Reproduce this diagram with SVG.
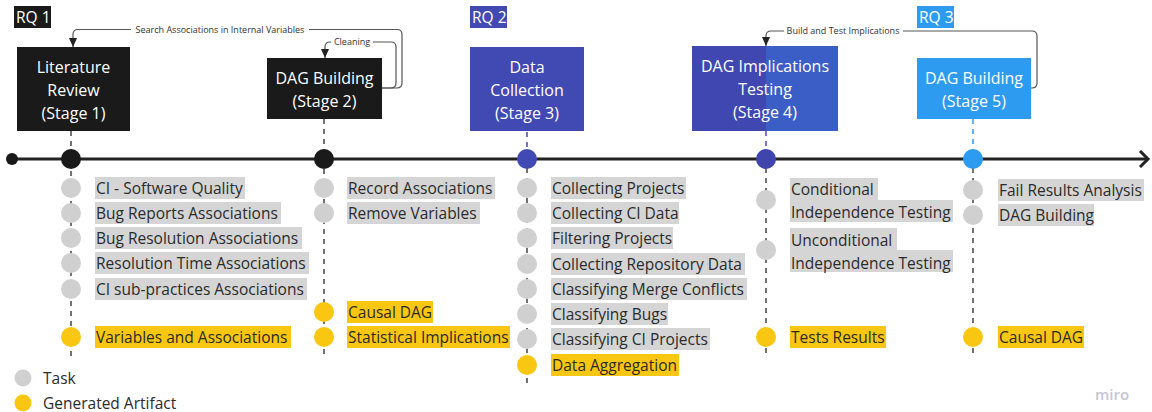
<svg xmlns="http://www.w3.org/2000/svg" width="1152" height="412" viewBox="0 0 1152 412">
<style>
text{font-family:"Open Sans","Liberation Sans",sans-serif;}
.box{font-size:16px;fill:#ffffff;text-anchor:middle;}
.rq{font-size:15.5px;fill:#ffffff;}
.it{font-size:15.5px;fill:#2b2b2b;}
.ann{font-size:9px;fill:#333333;}
.bgT{fill:#d5d5d5;}
.bgA{fill:#f9c712;}
.cT{fill:#d0d0d0;}
.cA{fill:#f9c712;}
.dash{stroke:#444444;stroke-width:1.5;stroke-dasharray:5 5;fill:none;}
.fb{stroke:#555555;stroke-width:1.2;fill:none;}
</style>
<defs>
<marker id="ah" markerWidth="9" markerHeight="10" refX="4.5" refY="9" orient="0" markerUnits="userSpaceOnUse">
<path d="M0.5,0 L4.5,9 L8.5,0 Z" fill="#222222"/>
</marker>
</defs>
<rect width="1152" height="412" fill="#ffffff"/>

<!-- dashed stage lines -->
<g id="stage-lines">
<line class="dash" x1="71" y1="131" x2="71" y2="356"/>
<line class="dash" x1="324" y1="119" x2="324" y2="356"/>
<line class="dash" x1="527" y1="132" x2="527" y2="150" style="stroke:#4149b3"/>
<line class="dash" x1="527" y1="168" x2="527" y2="384"/>
<line class="dash" x1="766" y1="131" x2="766" y2="150" style="stroke:#5a3fc0"/>
<line class="dash" x1="766" y1="168" x2="766" y2="356"/>
<line class="dash" x1="973" y1="119" x2="973" y2="150" style="stroke:#2d9bf0"/>
<line class="dash" x1="973" y1="168" x2="973" y2="356"/>
</g>

<!-- timeline -->
<g id="timeline">
<line x1="12" y1="159" x2="1148" y2="159" stroke="#222222" stroke-width="3"/>
<polyline points="1140,151 1148,159 1140,167" fill="none" stroke="#222222" stroke-width="3"/>
<circle cx="12" cy="159" r="6" fill="#1a1a1a"/>
<circle cx="71" cy="159" r="10" fill="#1a1a1a"/>
<circle cx="324" cy="159" r="10" fill="#1a1a1a"/>
<circle cx="527" cy="159" r="10" fill="#4149b3"/>
<circle cx="766" cy="159" r="10" fill="#3f45ad"/>
<circle cx="973" cy="159" r="10" fill="#2d9bf0"/>
</g>

<!-- RQ labels -->
<g id="rq1"><rect x="14" y="6" width="37" height="22" fill="#1a1a1a"/><text class="rq" x="16" y="23">RQ 1</text></g>
<g id="rq2"><rect x="470" y="6" width="37" height="22" fill="#4149b3"/><text class="rq" x="472" y="23">RQ 2</text></g>
<g id="rq3"><rect x="917" y="6" width="37" height="22" fill="#2d9bf0"/><text class="rq" x="919" y="23">RQ 3</text></g>

<!-- stage boxes -->
<g id="stage1">
<rect x="17" y="47" width="113" height="84" fill="#1a1a1a"/>
<text class="box" x="73.5" y="73">Literature</text>
<text class="box" x="73.5" y="96">Review</text>
<text class="box" x="73.5" y="119">(Stage 1)</text>
</g>
<g id="stage2">
<rect x="267" y="58" width="115" height="61" fill="#1a1a1a"/>
<text class="box" x="324.5" y="84">DAG Building</text>
<text class="box" x="324.5" y="107">(Stage 2)</text>
</g>
<g id="stage3">
<rect x="470" y="47" width="114" height="84" fill="#4149b3"/>
<text class="box" x="527" y="73">Data</text>
<text class="box" x="527" y="96">Collection</text>
<text class="box" x="527" y="119">(Stage 3)</text>
</g>
<g id="stage4">
<rect x="692" y="46" width="74" height="85" fill="#4047b0"/>
<rect x="766" y="46" width="72" height="85" fill="#3b5ec6"/>
<text class="box" x="765" y="72">DAG Implications</text>
<text class="box" x="765" y="95">Testing</text>
<text class="box" x="765" y="118">(Stage 4)</text>
</g>
<g id="stage5">
<rect x="917" y="58" width="114" height="61" fill="#2d9bf0"/>
<text class="box" x="974" y="84">DAG Building</text>
<text class="box" x="974" y="107">(Stage 5)</text>
</g>

<!-- connectors -->
<g id="connectors">
<path class="fb" d="M382,88 L397,88 Q402,88 402,83 L402,34.5 Q402,29.5 397,29.5 L309,29.5 M131,29.5 L78,29.5 Q73,29.5 73,34.5 L73,47" marker-end="url(#ah)"/>
<text class="ann" x="220" y="32.5" text-anchor="middle">Search Associations in Internal Variables</text>
<path class="fb" d="M382,88 L391,88 Q396,88 396,83 L396,47 Q396,42 391,42 L373,42 M331,42 L330,42 Q325,42 325,47 L325,58" marker-end="url(#ah)"/>
<text class="ann" x="352" y="45" text-anchor="middle">Cleaning</text>
<path class="fb" d="M1031,88 L1032,88 Q1037,88 1037,83 L1037,36 Q1037,31 1032,31 L903,31 M784,31 L771,31 Q766,31 766,36 L766,46" marker-end="url(#ah)"/>
<text class="ann" x="843" y="34" text-anchor="middle">Build and Test Implications</text>
</g>

<!-- stage 1 items -->
<g id="stage1-items">
<circle class="cT" cx="71" cy="188" r="10"/><rect class="bgT" x="95" y="177" width="150" height="22"/><text class="it" x="96" y="193.5">CI - Software Quality</text>
<circle class="cT" cx="71" cy="213" r="10"/><rect class="bgT" x="95" y="202" width="186" height="22"/><text class="it" x="96" y="218.5">Bug Reports Associations</text>
<circle class="cT" cx="71" cy="238" r="10"/><rect class="bgT" x="95" y="227" width="207" height="22"/><text class="it" x="96" y="243.5">Bug Resolution Associations</text>
<circle class="cT" cx="71" cy="263" r="10"/><rect class="bgT" x="95" y="252" width="214" height="22"/><text class="it" x="96" y="268.5">Resolution Time Associations</text>
<circle class="cT" cx="71" cy="289" r="10"/><rect class="bgT" x="95" y="278" width="212" height="22"/><text class="it" x="96" y="294.5">CI sub-practices Associations</text>
<circle class="cA" cx="71" cy="337" r="10"/><rect class="bgA" x="95" y="326" width="196" height="22"/><text class="it" x="96" y="342.5">Variables and Associations</text>
</g>

<!-- stage 2 items -->
<g id="stage2-items">
<circle class="cT" cx="324" cy="188" r="10"/><rect class="bgT" x="347" y="177" width="148" height="22"/><text class="it" x="348" y="193.5">Record Associations</text>
<circle class="cT" cx="324" cy="213" r="10"/><rect class="bgT" x="347" y="202" width="133" height="22"/><text class="it" x="348" y="218.5">Remove Variables</text>
<circle class="cA" cx="324" cy="312" r="10"/><rect class="bgA" x="347" y="301" width="86" height="22"/><text class="it" x="348" y="317.5">Causal DAG</text>
<circle class="cA" cx="324" cy="337" r="10"/><rect class="bgA" x="347" y="326" width="163" height="22"/><text class="it" x="348" y="342.5">Statistical Implications</text>
</g>

<!-- stage 3 items -->
<g id="stage3-items">
<circle class="cT" cx="527" cy="188" r="10"/><rect class="bgT" x="551" y="177" width="135" height="22"/><text class="it" x="552" y="193.5">Collecting Projects</text>
<circle class="cT" cx="527" cy="213" r="10"/><rect class="bgT" x="551" y="202" width="128" height="22"/><text class="it" x="552" y="218.5">Collecting CI Data</text>
<circle class="cT" cx="527" cy="238" r="10"/><rect class="bgT" x="551" y="227" width="122" height="22"/><text class="it" x="552" y="243.5">Filtering Projects</text>
<circle class="cT" cx="527" cy="264" r="10"/><rect class="bgT" x="551" y="253" width="194" height="22"/><text class="it" x="552" y="269.5">Collecting Repository Data</text>
<circle class="cT" cx="527" cy="289" r="10"/><rect class="bgT" x="551" y="278" width="196" height="22"/><text class="it" x="552" y="294.5">Classifying Merge Conflicts</text>
<circle class="cT" cx="527" cy="314" r="10"/><rect class="bgT" x="551" y="303" width="117" height="22"/><text class="it" x="552" y="319.5">Classifying Bugs</text>
<circle class="cT" cx="527" cy="339" r="10"/><rect class="bgT" x="551" y="328" width="159" height="22"/><text class="it" x="552" y="344.5">Classifying CI Projects</text>
<circle class="cA" cx="527" cy="365" r="10"/><rect class="bgA" x="551" y="354" width="128" height="22"/><text class="it" x="552" y="370.5">Data Aggregation</text>
</g>

<!-- stage 4 items -->
<g id="stage4-items">
<circle class="cT" cx="766" cy="200" r="10"/>
<rect class="bgT" x="790" y="178" width="88" height="23"/><rect class="bgT" x="790" y="200" width="163" height="22"/>
<text class="it" x="791" y="194.5">Conditional</text><text class="it" x="791" y="217.5">Independence Testing</text>
<circle class="cT" cx="766" cy="250" r="10"/>
<rect class="bgT" x="790" y="228" width="107" height="23"/><rect class="bgT" x="790" y="250" width="163" height="22"/>
<text class="it" x="791" y="245.5">Unconditional</text><text class="it" x="791" y="268.5">Independence Testing</text>
<circle class="cA" cx="766" cy="337" r="10"/><rect class="bgA" x="790" y="326" width="96" height="22"/><text class="it" x="791" y="342.5">Tests Results</text>
</g>

<!-- stage 5 items -->
<g id="stage5-items">
<circle class="cT" cx="973" cy="190" r="10"/><rect class="bgT" x="998" y="179" width="146" height="22"/><text class="it" x="999" y="195.5">Fail Results Analysis</text>
<circle class="cT" cx="973" cy="215" r="10"/><rect class="bgT" x="998" y="204" width="96" height="22"/><text class="it" x="999" y="220.5">DAG Building</text>
<circle class="cA" cx="973" cy="337" r="10"/><rect class="bgA" x="998" y="326" width="86" height="22"/><text class="it" x="999" y="342.5">Causal DAG</text>
</g>

<!-- legend -->
<g id="legend">
<circle class="cT" cx="23" cy="378" r="8.5"/><text class="it" x="43" y="383.5">Task</text>
<circle class="cA" cx="23" cy="403" r="8.5"/><text class="it" x="43" y="408.5">Generated Artifact</text>
</g>

<text x="1095" y="400" font-size="15" font-weight="600" fill="#c6c6d4" style="font-family:'Open Sans','Liberation Sans',sans-serif">miro</text>
</svg>
